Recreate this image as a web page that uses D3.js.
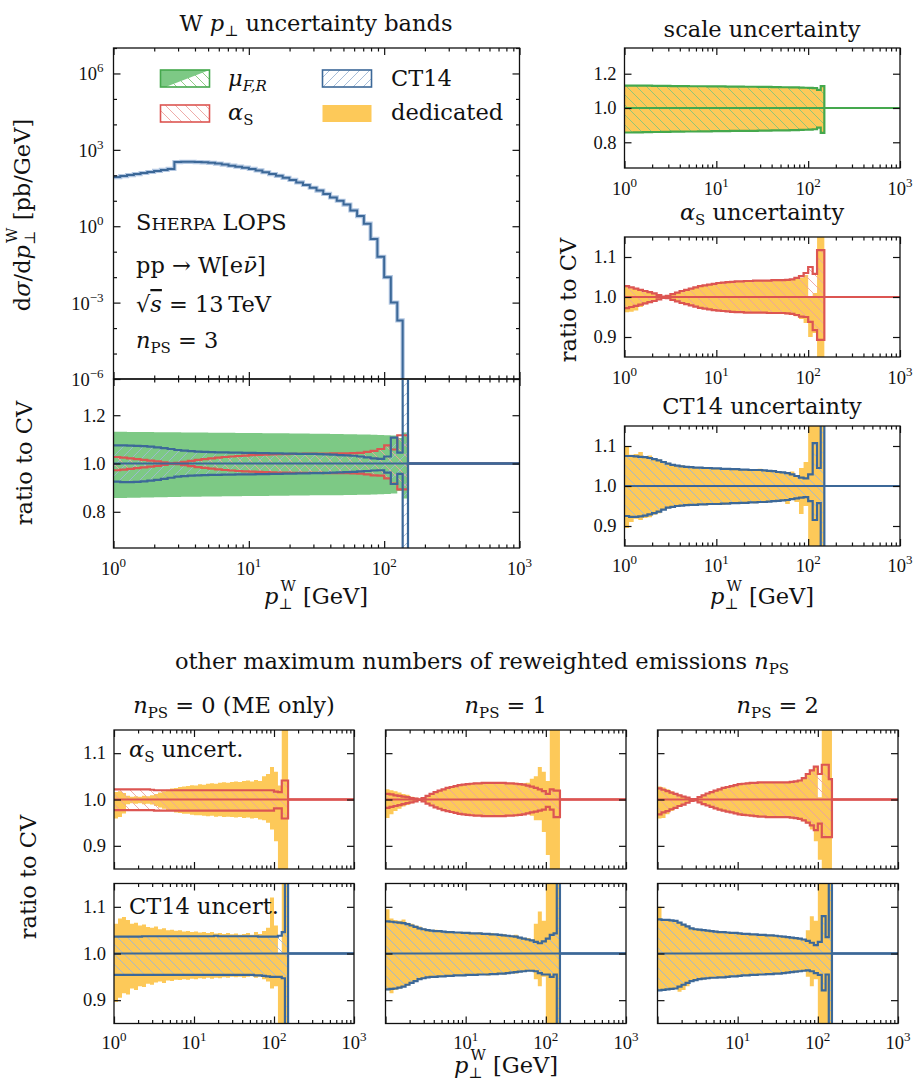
<!DOCTYPE html>
<html>
<head>
<meta charset="utf-8">
<script src="https://cdn.jsdelivr.net/npm/d3@7"></script>
<style>
  body { margin: 0; background: #fff; }
  svg { display: block; }
  text { fill: #111; }
  .num { font-family: "Liberation Serif", serif; font-size: 18.5px; }
  .lbl { font-family: "DejaVu Serif", serif; font-size: 22.5px; }
  .it { font-style: italic; }
</style>
</head>
<body>
<svg id="fig" width="917" height="1090"></svg>
<script>
// ---------- binning (GeV) ----------
const binEdges = [1.000, 1.122, 1.259, 1.413, 1.585, 1.778, 1.995, 2.239, 2.512, 2.818,
  3.162, 3.548, 3.981, 4.467, 5.012, 5.623, 6.310, 7.079, 7.943, 8.913,
  10.00, 11.22, 12.59, 14.13, 15.85, 17.78, 19.95, 22.39, 25.12, 28.18,
  31.62, 35.48, 39.81, 44.67, 50.12, 56.23, 63.10, 70.79, 79.43, 89.13,
  100.0, 112.0, 125.0, 137.0, 150.0];

// ---------- central value, d sigma / d pT (pb/GeV), n_PS = 3 ----------
const cvXsec = [85.1, 93.3, 102, 112, 123, 135, 148, 162, 178, 331,
  339, 339, 331, 324, 309, 288, 263, 240, 219, 200,
  178, 155, 132, 112, 95.5, 79.4, 66.1, 52.5, 41.7, 32.4,
  25.1, 18.6, 13.5, 10.0, 7.08, 4.17, 2.51, 1.26, 0.316, 0.063,
  0.010, 0.0010, 2.0e-4, 5e-7];

// ---------- n_PS = 3 : scale variations ----------
const scaleHi = [1.131, 1.131, 1.130, 1.130, 1.130, 1.130, 1.129, 1.129, 1.129, 1.129,
  1.128, 1.128, 1.128, 1.128, 1.127, 1.127, 1.127, 1.127, 1.126, 1.126,
  1.126, 1.126, 1.125, 1.125, 1.125, 1.125, 1.124, 1.124, 1.124, 1.123,
  1.123, 1.123, 1.122, 1.122, 1.121, 1.121, 1.120, 1.120, 1.119, 1.118,
  1.117, 1.116, 1.106, 1.128];
const scaleLo = [0.857, 0.857, 0.858, 0.858, 0.859, 0.859, 0.860, 0.860, 0.861, 0.861,
  0.862, 0.862, 0.862, 0.863, 0.863, 0.863, 0.864, 0.864, 0.864, 0.865,
  0.865, 0.865, 0.865, 0.866, 0.866, 0.866, 0.867, 0.867, 0.867, 0.868,
  0.868, 0.868, 0.869, 0.869, 0.870, 0.870, 0.871, 0.871, 0.872, 0.873,
  0.874, 0.876, 0.886, 0.855];
// the dedicated scale band coincides with the on-the-fly envelope
const scaleDedHi = scaleHi;
const scaleDedLo = scaleLo;

// ---------- n_PS = 3 : alpha_s ----------
const asUp3 = [0.972, 0.975, 0.978, 0.981, 0.984, 0.987, 0.990, 0.994, 0.998, 1.003,
  1.007, 1.011, 1.015, 1.018, 1.021, 1.024, 1.027, 1.029, 1.031, 1.033,
  1.035, 1.036, 1.037, 1.038, 1.039, 1.039, 1.040, 1.040, 1.041, 1.041,
  1.041, 1.041, 1.042, 1.042, 1.042, 1.043, 1.044, 1.048, 1.052, 1.060,
  1.075, 1.058, 1.117, 1.117];
const asDn3 = [1.027, 1.024, 1.021, 1.018, 1.015, 1.012, 1.009, 1.005, 1.001, 0.997,
  0.993, 0.989, 0.985, 0.982, 0.979, 0.976, 0.973, 0.971, 0.969, 0.967,
  0.966, 0.965, 0.964, 0.963, 0.962, 0.962, 0.961, 0.961, 0.961, 0.961,
  0.961, 0.960, 0.960, 0.960, 0.960, 0.959, 0.958, 0.955, 0.951, 0.950,
  0.938, 0.917, 0.893, 0.893];
const asDedHi3 = [1.025, 1.022, 1.020, 1.018, 1.016, 1.012, 1.010, 1.006, 1.002, 1.004,
  1.008, 1.012, 1.016, 1.019, 1.022, 1.025, 1.027, 1.030, 1.031, 1.034,
  1.035, 1.036, 1.036, 1.038, 1.039, 1.038, 1.040, 1.039, 1.041, 1.040,
  1.042, 1.041, 1.040, 1.042, 1.041, 1.044, 1.043, 1.050, 1.048, 1.055,
  1.000, 1.010, 1.300, 1.300];
const asDedLo3 = [0.962, 0.963, 0.966, 0.975, 0.982, 0.986, 0.990, 0.993, 0.997, 0.996,
  0.992, 0.988, 0.985, 0.981, 0.979, 0.976, 0.973, 0.970, 0.969, 0.967,
  0.966, 0.964, 0.964, 0.962, 0.962, 0.961, 0.961, 0.960, 0.961, 0.960,
  0.961, 0.959, 0.960, 0.959, 0.958, 0.957, 0.955, 0.952, 0.945, 0.935,
  0.900, 0.910, 0.700, 0.700];

// ---------- n_PS = 3 : CT14 ----------
const ctUp3 = [1.075, 1.075, 1.074, 1.073, 1.072, 1.070, 1.067, 1.064, 1.060, 1.056,
  1.053, 1.051, 1.049, 1.048, 1.047, 1.046, 1.046, 1.045, 1.045, 1.044,
  1.044, 1.043, 1.043, 1.042, 1.042, 1.041, 1.041, 1.040, 1.040, 1.040,
  1.039, 1.038, 1.037, 1.035, 1.034, 1.032, 1.029, 1.025, 1.021, 1.019,
  1.029, 1.107, 1.045, 1.600];
const ctDn3 = [0.925, 0.923, 0.923, 0.924, 0.926, 0.929, 0.932, 0.936, 0.941, 0.946,
  0.948, 0.950, 0.951, 0.952, 0.953, 0.953, 0.954, 0.954, 0.955, 0.955,
  0.955, 0.956, 0.956, 0.957, 0.957, 0.958, 0.958, 0.959, 0.959, 0.960,
  0.960, 0.961, 0.962, 0.963, 0.964, 0.965, 0.967, 0.969, 0.971, 0.972,
  0.962, 0.915, 0.957, 0.400];
const ctDedHi3 = [1.100, 1.078, 1.080, 1.085, 1.074, 1.076, 1.070, 1.066, 1.062, 1.058,
  1.055, 1.050, 1.052, 1.047, 1.049, 1.046, 1.047, 1.044, 1.046, 1.043,
  1.045, 1.042, 1.044, 1.041, 1.043, 1.040, 1.042, 1.039, 1.041, 1.043,
  1.038, 1.039, 1.036, 1.035, 1.033, 1.031, 1.036, 1.026, 1.045, 1.060,
  1.300, 1.300, 1.300, 1.300];
const ctDedLo3 = [0.895, 0.910, 0.918, 0.915, 0.920, 0.922, 0.928, 0.932, 0.940, 0.944,
  0.947, 0.949, 0.950, 0.951, 0.952, 0.951, 0.953, 0.952, 0.954, 0.953,
  0.955, 0.953, 0.955, 0.956, 0.955, 0.957, 0.956, 0.958, 0.957, 0.959,
  0.958, 0.960, 0.961, 0.962, 0.963, 0.955, 0.966, 0.960, 0.930, 0.950,
  0.700, 0.700, 0.700, 0.700];

// ---------- n_PS = 0 ----------
const asUp0 = [1.022, 1.022, 1.022, 1.022, 1.022, 1.022, 1.022, 1.022, 1.022, 1.021,
  1.020, 1.020, 1.020, 1.020, 1.020, 1.020, 1.020, 1.020, 1.020, 1.020,
  1.020, 1.020, 1.020, 1.020, 1.020, 1.020, 1.020, 1.020, 1.020, 1.020,
  1.020, 1.020, 1.020, 1.020, 1.020, 1.020, 1.020, 1.020, 1.020, 1.020,
  1.017, 1.016, 1.041, 1.041];
const asDn0 = [0.977, 0.977, 0.977, 0.977, 0.977, 0.977, 0.977, 0.977, 0.977, 0.977,
  0.976, 0.976, 0.976, 0.976, 0.976, 0.976, 0.976, 0.976, 0.976, 0.976,
  0.976, 0.976, 0.976, 0.976, 0.976, 0.976, 0.976, 0.976, 0.976, 0.976,
  0.976, 0.976, 0.976, 0.976, 0.976, 0.976, 0.976, 0.976, 0.976, 0.976,
  0.981, 0.981, 0.959, 0.959];
const asDedHi0 = [1.016, 1.018, 1.014, 1.008, 1.006, 1.007, 1.006, 1.008, 1.007, 1.009,
  1.012, 1.015, 1.018, 1.021, 1.024, 1.025, 1.027, 1.028, 1.029, 1.031,
  1.030, 1.033, 1.032, 1.034, 1.035, 1.034, 1.036, 1.037, 1.036, 1.038,
  1.039, 1.038, 1.040, 1.041, 1.039, 1.042, 1.040, 1.050, 1.055, 1.070,
  1.060, 1.030, 1.300, 1.300];
const asDedLo0 = [0.959, 0.962, 0.970, 0.990, 0.992, 0.991, 0.992, 0.990, 0.991, 0.989,
  0.986, 0.983, 0.980, 0.977, 0.975, 0.972, 0.971, 0.969, 0.969, 0.967,
  0.966, 0.966, 0.965, 0.964, 0.965, 0.963, 0.964, 0.962, 0.963, 0.962,
  0.961, 0.962, 0.960, 0.961, 0.959, 0.960, 0.957, 0.955, 0.950, 0.935,
  0.910, 0.700, 0.700, 0.700];
const ctUp0 = [1.036, 1.036, 1.036, 1.036, 1.036, 1.036, 1.036, 1.037, 1.037, 1.037,
  1.037, 1.037, 1.037, 1.037, 1.037, 1.037, 1.037, 1.037, 1.037, 1.037,
  1.037, 1.037, 1.037, 1.037, 1.037, 1.038, 1.037, 1.037, 1.037, 1.037,
  1.037, 1.037, 1.037, 1.037, 1.037, 1.037, 1.036, 1.036, 1.036, 1.036,
  1.036, 1.038, 1.046, 1.600];
const ctDn0 = [0.954, 0.954, 0.954, 0.954, 0.954, 0.954, 0.954, 0.954, 0.954, 0.954,
  0.954, 0.954, 0.954, 0.954, 0.954, 0.954, 0.954, 0.954, 0.954, 0.954,
  0.954, 0.954, 0.954, 0.954, 0.954, 0.954, 0.954, 0.954, 0.954, 0.954,
  0.954, 0.954, 0.954, 0.954, 0.954, 0.953, 0.953, 0.952, 0.951, 0.950,
  0.950, 0.950, 0.947, 0.400];
const ctDedHi0 = [1.064, 1.075, 1.078, 1.072, 1.064, 1.066, 1.060, 1.062, 1.057, 1.055,
  1.058, 1.052, 1.054, 1.050, 1.051, 1.049, 1.050, 1.047, 1.048, 1.046,
  1.047, 1.045, 1.046, 1.044, 1.046, 1.043, 1.044, 1.042, 1.044, 1.041,
  1.043, 1.040, 1.042, 1.044, 1.040, 1.046, 1.042, 1.048, 1.055, 1.120,
  1.060, 1.000, 1.300, 1.300];
const ctDedLo0 = [0.896, 0.905, 0.915, 0.912, 0.925, 0.922, 0.930, 0.928, 0.935, 0.933,
  0.938, 0.940, 0.937, 0.942, 0.941, 0.944, 0.943, 0.945, 0.944, 0.946,
  0.945, 0.947, 0.946, 0.948, 0.946, 0.948, 0.947, 0.949, 0.948, 0.950,
  0.949, 0.950, 0.948, 0.950, 0.951, 0.948, 0.950, 0.945, 0.940, 0.925,
  0.930, 0.700, 0.700, 0.700];

// ---------- n_PS = 1 ----------
const asUp1 = [0.982, 0.984, 0.986, 0.988, 0.990, 0.992, 0.994, 0.996, 0.999, 1.003,
  1.008, 1.012, 1.016, 1.019, 1.022, 1.025, 1.027, 1.029, 1.031, 1.032,
  1.033, 1.034, 1.035, 1.035, 1.036, 1.036, 1.036, 1.036, 1.036, 1.036,
  1.035, 1.035, 1.034, 1.033, 1.032, 1.030, 1.028, 1.025, 1.022, 1.018,
  1.012, 1.022, 1.019, 1.019];
const asDn1 = [1.012, 1.011, 1.009, 1.008, 1.006, 1.005, 1.003, 1.002, 1.000, 0.996,
  0.991, 0.987, 0.983, 0.980, 0.977, 0.975, 0.973, 0.971, 0.969, 0.968,
  0.967, 0.966, 0.965, 0.965, 0.964, 0.964, 0.964, 0.964, 0.964, 0.964,
  0.965, 0.965, 0.966, 0.967, 0.968, 0.970, 0.972, 0.974, 0.976, 0.978,
  0.984, 0.978, 0.962, 0.962];
const asDedHi1 = [1.022, 1.020, 1.018, 1.015, 1.012, 1.010, 1.006, 1.004, 1.002, 1.004,
  1.008, 1.012, 1.016, 1.019, 1.022, 1.025, 1.027, 1.029, 1.031, 1.033,
  1.034, 1.035, 1.036, 1.035, 1.037, 1.036, 1.037, 1.036, 1.038, 1.036,
  1.036, 1.035, 1.036, 1.034, 1.035, 1.036, 1.045, 1.050, 1.070, 1.060,
  1.040, 1.300, 1.300, 1.300];
const asDedLo1 = [0.960, 0.968, 0.975, 0.980, 0.985, 0.988, 0.992, 0.995, 0.997, 0.996,
  0.992, 0.987, 0.983, 0.980, 0.977, 0.975, 0.973, 0.971, 0.969, 0.967,
  0.966, 0.965, 0.964, 0.965, 0.963, 0.964, 0.963, 0.964, 0.962, 0.964,
  0.964, 0.965, 0.964, 0.966, 0.967, 0.968, 0.965, 0.955, 0.955, 0.930,
  0.880, 0.700, 0.700, 0.700];
const ctUp1 = [1.069, 1.068, 1.067, 1.066, 1.065, 1.063, 1.060, 1.057, 1.054, 1.052,
  1.050, 1.049, 1.048, 1.048, 1.047, 1.046, 1.046, 1.045, 1.045, 1.044,
  1.044, 1.043, 1.043, 1.043, 1.042, 1.042, 1.041, 1.041, 1.040, 1.039,
  1.038, 1.037, 1.036, 1.034, 1.032, 1.030, 1.028, 1.025, 1.022, 1.026,
  1.032, 1.040, 1.043, 1.600];
const ctDn1 = [0.923, 0.924, 0.925, 0.927, 0.929, 0.933, 0.937, 0.941, 0.945, 0.947,
  0.949, 0.950, 0.950, 0.951, 0.951, 0.952, 0.952, 0.953, 0.953, 0.953,
  0.954, 0.954, 0.954, 0.955, 0.955, 0.955, 0.956, 0.956, 0.957, 0.957,
  0.958, 0.959, 0.960, 0.961, 0.962, 0.963, 0.963, 0.962, 0.958, 0.955,
  0.955, 0.950, 0.955, 0.400];
const ctDedHi1 = [1.095, 1.075, 1.072, 1.070, 1.073, 1.066, 1.064, 1.060, 1.058, 1.054,
  1.052, 1.050, 1.051, 1.049, 1.048, 1.047, 1.048, 1.046, 1.046, 1.045,
  1.046, 1.044, 1.044, 1.045, 1.043, 1.043, 1.044, 1.042, 1.041, 1.042,
  1.039, 1.038, 1.040, 1.035, 1.034, 1.033, 1.030, 1.064, 1.090, 1.070,
  1.300, 1.300, 1.300, 1.300];
const ctDedLo1 = [0.921, 0.915, 0.922, 0.925, 0.930, 0.931, 0.936, 0.940, 0.944, 0.946,
  0.948, 0.949, 0.948, 0.950, 0.950, 0.951, 0.950, 0.952, 0.952, 0.951,
  0.953, 0.953, 0.952, 0.954, 0.954, 0.953, 0.955, 0.955, 0.956, 0.955,
  0.957, 0.958, 0.957, 0.960, 0.961, 0.962, 0.961, 0.945, 0.930, 0.950,
  0.700, 0.700, 0.700, 0.700];

// ---------- n_PS = 2 ----------
const asUp2 = [0.968, 0.972, 0.975, 0.979, 0.982, 0.986, 0.989, 0.993, 0.997, 1.001,
  1.005, 1.009, 1.013, 1.016, 1.019, 1.022, 1.025, 1.027, 1.029, 1.031,
  1.033, 1.034, 1.035, 1.036, 1.036, 1.037, 1.037, 1.037, 1.037, 1.037,
  1.037, 1.037, 1.037, 1.038, 1.039, 1.041, 1.046, 1.055, 1.063, 1.071,
  1.055, 1.075, 1.075, 1.044];
const asDn2 = [1.024, 1.021, 1.018, 1.015, 1.012, 1.009, 1.006, 1.004, 1.001, 0.998,
  0.994, 0.990, 0.987, 0.984, 0.981, 0.978, 0.976, 0.974, 0.972, 0.970,
  0.968, 0.967, 0.966, 0.965, 0.964, 0.963, 0.963, 0.962, 0.962, 0.962,
  0.962, 0.962, 0.962, 0.961, 0.960, 0.958, 0.955, 0.950, 0.944, 0.934,
  0.948, 0.919, 0.919, 0.919];
const asDedHi2 = [1.028, 1.026, 1.022, 1.018, 1.014, 1.010, 1.007, 1.004, 1.002, 1.003,
  1.006, 1.010, 1.014, 1.017, 1.020, 1.023, 1.026, 1.028, 1.030, 1.032,
  1.034, 1.035, 1.036, 1.036, 1.037, 1.037, 1.038, 1.037, 1.038, 1.037,
  1.038, 1.037, 1.038, 1.039, 1.040, 1.042, 1.047, 1.055, 1.063, 1.071,
  1.005, 1.300, 1.300, 1.300];
const asDedLo2 = [0.959, 0.960, 0.968, 0.975, 0.981, 0.985, 0.989, 0.993, 0.997, 0.997,
  0.993, 0.989, 0.986, 0.983, 0.980, 0.977, 0.975, 0.973, 0.971, 0.969,
  0.967, 0.966, 0.965, 0.964, 0.963, 0.962, 0.962, 0.961, 0.962, 0.961,
  0.962, 0.961, 0.961, 0.960, 0.959, 0.957, 0.953, 0.948, 0.935, 0.910,
  0.870, 0.700, 0.700, 0.700];
const ctUp2 = [1.073, 1.072, 1.072, 1.071, 1.070, 1.066, 1.062, 1.058, 1.054, 1.052,
  1.051, 1.050, 1.049, 1.048, 1.047, 1.046, 1.046, 1.045, 1.044, 1.044,
  1.043, 1.042, 1.042, 1.041, 1.041, 1.040, 1.040, 1.039, 1.039, 1.038,
  1.037, 1.036, 1.035, 1.034, 1.033, 1.032, 1.030, 1.027, 1.023, 1.018,
  1.025, 1.080, 1.035, 1.600];
const ctDn2 = [0.921, 0.922, 0.923, 0.924, 0.925, 0.929, 0.933, 0.937, 0.941, 0.943,
  0.945, 0.946, 0.947, 0.948, 0.948, 0.949, 0.949, 0.950, 0.951, 0.951,
  0.952, 0.953, 0.953, 0.954, 0.954, 0.955, 0.955, 0.956, 0.956, 0.957,
  0.957, 0.958, 0.959, 0.960, 0.961, 0.962, 0.963, 0.964, 0.962, 0.958,
  0.954, 0.921, 0.955, 0.400];
const ctDedHi2 = [1.100, 1.074, 1.073, 1.071, 1.072, 1.067, 1.063, 1.059, 1.055, 1.053,
  1.051, 1.050, 1.050, 1.048, 1.049, 1.046, 1.047, 1.045, 1.045, 1.044,
  1.044, 1.043, 1.043, 1.042, 1.042, 1.041, 1.041, 1.040, 1.040, 1.039,
  1.038, 1.037, 1.036, 1.035, 1.034, 1.033, 1.031, 1.050, 1.080, 1.070,
  1.300, 1.300, 1.300, 1.300];
const ctDedLo2 = [0.921, 0.922, 0.923, 0.924, 0.925, 0.918, 0.922, 0.930, 0.940, 0.943,
  0.945, 0.945, 0.947, 0.947, 0.948, 0.949, 0.948, 0.950, 0.950, 0.951,
  0.951, 0.952, 0.953, 0.953, 0.954, 0.954, 0.955, 0.955, 0.956, 0.956,
  0.957, 0.957, 0.958, 0.960, 0.960, 0.961, 0.962, 0.950, 0.930, 0.945,
  0.700, 0.700, 0.700, 0.700];

// ---------- tick labels ----------
const xDecades = [1, 10, 100, 1000];
const xDecadeExp = ["0", "1", "2", "3"];
const mainYTicks = [1e6, 1e3, 1, 1e-3, 1e-6];
const mainYExp = ["6", "3", "0", "\u22123", "\u22126"];
const wideRatioTicks = [0.8, 1.0, 1.2];
const wideRatioLabels = ["0.8", "1.0", "1.2"];
const narrowRatioTicks = [0.9, 1.0, 1.1];
const narrowRatioLabels = ["0.9", "1.0", "1.1"];

// ---------- styling ----------
const C = {
  green: "#45a84d", greenFill: "#7dc985", greenHatch: "#84c67a",
  red: "#dc5552", redHatch: "#eca39f",
  blue: "#3c6898", blueHatch: "#9db7d6",
  yellow: "#fdc959", ink: "#111"
};
const SUB = 15;

const svg = d3.select("#fig");
svg.append("rect").attr("width", 917).attr("height", 1090).attr("fill", "#fff");
const defs = svg.append("defs");

function hatchPattern(id, color, dir) {
  const p = defs.append("pattern").attr("id", id)
    .attr("patternUnits", "userSpaceOnUse").attr("width", 10).attr("height", 10);
  const d = dir === "\\"
    ? "M-1,-1L11,11M-1,9L1,11M9,-1L11,1"
    : "M-1,11L11,-1M-1,1L1,-1M9,11L11,9";
  p.append("path").attr("d", d).attr("stroke", color)
    .attr("stroke-width", 0.9).attr("fill", "none");
}
hatchPattern("hatchRed", C.redHatch, "\\");
hatchPattern("hatchGreen", C.greenHatch, "\\");
hatchPattern("hatchBlue", C.blueHatch, "\\");
hatchPattern("hatchBlueF", C.blueHatch, "/");

// ---------- helpers ----------
let clipCount = 0;
function makePanel(r, yScale) {
  const x = d3.scaleLog().domain([1, 1000]).range([r.x0, r.x1]);
  const y = yScale.range([r.y1, r.y0]);
  const id = "clip" + (clipCount++);
  defs.append("clipPath").attr("id", id).append("rect")
    .attr("x", r.x0).attr("y", r.y0).attr("width", r.x1 - r.x0).attr("height", r.y1 - r.y0);
  const g = svg.append("g");
  const plot = g.append("g").attr("clip-path", `url(#${id})`);
  return { r, x, y, g, plot };
}

function stepPoints(vals, tail) {
  const pts = [];
  vals.forEach((v, i) => { pts.push([binEdges[i], v]); pts.push([binEdges[i + 1], v]); });
  pts.push([binEdges[binEdges.length - 1], tail]);
  pts.push([1000, tail]);
  return pts;
}
function bandPoints(hi, lo) {
  const pts = [];
  hi.forEach((h, i) => {
    pts.push([binEdges[i], h, lo[i]]);
    pts.push([binEdges[i + 1], h, lo[i]]);
  });
  return pts;
}
function drawBand(p, hi, lo, fill) {
  p.plot.append("path").datum(bandPoints(hi, lo))
    .attr("d", d3.area().x(d => p.x(d[0])).y0(d => p.y(d[2])).y1(d => p.y(d[1])))
    .attr("fill", fill);
}
function drawStep(p, vals, color, width, tail) {
  p.plot.append("path").datum(stepPoints(vals, tail))
    .attr("d", d3.line().x(d => p.x(d[0])).y(d => p.y(d[1])))
    .attr("fill", "none").attr("stroke", color).attr("stroke-width", width)
    .attr("stroke-linejoin", "miter");
}
function drawUnity(p, color) {
  p.plot.append("path").datum([[1, 1], [1000, 1]])
    .attr("d", d3.line().x(d => p.x(d[0])).y(d => p.y(d[1])))
    .attr("stroke", color).attr("stroke-width", 2).attr("fill", "none");
}

function addExpLabel(sel, base, exp, anchor) {
  const t = sel.append("text").attr("class", "num").attr("text-anchor", anchor);
  t.append("tspan").text(base);
  t.append("tspan").attr("dy", -8).attr("font-size", 13).text(exp);
  return t;
}

function drawAxes(p, o) {
  const { r, x, y } = p;
  const minor = x.ticks().filter(v => Math.abs(Math.log10(v) - Math.round(Math.log10(v))) > 1e-6);
  const clean = g => {
    g.selectAll(".domain").remove();
    g.attr("color", C.ink).selectAll("line").attr("stroke-width", 1.2);
  };
  const ax = p.g.append("g");
  ax.append("g").attr("transform", `translate(0,${r.y1})`)
    .call(d3.axisBottom(x).tickValues(xDecades).tickSize(-7).tickFormat("")).call(clean);
  ax.append("g").attr("transform", `translate(0,${r.y1})`)
    .call(d3.axisBottom(x).tickValues(minor).tickSize(-3.5).tickFormat("")).call(clean);
  ax.append("g").attr("transform", `translate(0,${r.y0})`)
    .call(d3.axisTop(x).tickValues(xDecades).tickSize(-7).tickFormat("")).call(clean);
  ax.append("g").attr("transform", `translate(0,${r.y0})`)
    .call(d3.axisTop(x).tickValues(minor).tickSize(-3.5).tickFormat("")).call(clean);
  ax.append("g").attr("transform", `translate(${r.x0},0)`)
    .call(d3.axisLeft(y).tickValues(o.yMajor).tickSize(-7).tickFormat("")).call(clean);
  ax.append("g").attr("transform", `translate(${r.x1},0)`)
    .call(d3.axisRight(y).tickValues(o.yMajor).tickSize(-7).tickFormat("")).call(clean);
  if (o.yMinor) {
    ax.append("g").attr("transform", `translate(${r.x0},0)`)
      .call(d3.axisLeft(y).tickValues(o.yMinor).tickSize(-3.5).tickFormat("")).call(clean);
    ax.append("g").attr("transform", `translate(${r.x1},0)`)
      .call(d3.axisRight(y).tickValues(o.yMinor).tickSize(-3.5).tickFormat("")).call(clean);
  }
  p.g.append("rect").attr("x", r.x0).attr("y", r.y0)
    .attr("width", r.x1 - r.x0).attr("height", r.y1 - r.y0)
    .attr("fill", "none").attr("stroke", C.ink).attr("stroke-width", 1.3);

  if (o.xLabels) {
    xDecades.forEach((v, i) => {
      if (o.xLabels.indexOf(v) < 0) return;
      addExpLabel(p.g, "10", xDecadeExp[i], "middle")
        .attr("x", x(v)).attr("y", r.y1 + o.xLabelGap);
    });
  }
  if (o.yLabels) {
    o.yMajor.forEach((v, i) => {
      p.g.append("text").attr("class", "num").attr("text-anchor", "end")
        .attr("x", r.x0 - 8).attr("y", y(v)).attr("dy", "0.34em").text(o.yLabels[i]);
    });
  }
}

function ratioPanel(r, domain, hi, lo, dedHi, dedLo, color, hatchId, o) {
  const p = makePanel(r, d3.scaleLinear().domain(domain));
  drawBand(p, dedHi, dedLo, C.yellow);
  drawBand(p, hi, lo, `url(#${hatchId})`);
  drawStep(p, hi, color, 2.2, 1);
  drawStep(p, lo, color, 2.2, 1);
  drawUnity(p, color);
  drawAxes(p, o);
  return p;
}

function pTLabel(x, y) {
  const t = svg.append("text").attr("class", "lbl").attr("text-anchor", "middle")
    .attr("x", x).attr("y", y);
  t.append("tspan").attr("class", "it").text("p");
  t.append("tspan").attr("font-size", SUB).attr("dy", 5).text("\u22A5");
  t.append("tspan").attr("font-size", SUB).attr("dx", -12).attr("dy", -18).text("W");
  t.append("tspan").attr("dy", 13).text(" [GeV]");
  return t;
}
function ratioLabel(x, y) {
  svg.append("text").attr("class", "lbl").attr("text-anchor", "middle")
    .attr("transform", `translate(${x},${y}) rotate(-90)`).text("ratio to CV");
}
function alphaS(t) {
  t.append("tspan").attr("class", "it").text("\u03B1");
  t.append("tspan").attr("font-size", SUB).attr("dy", 5).text("S");
}

// ---------- main spectrum ----------
const MAIN = { x0: 113.5, x1: 519.5, y0: 48, y1: 379 };
const pMain = makePanel(MAIN, d3.scaleLog().domain([1e-6, 1e7]));
const cvPts = stepPoints(cvXsec, 1e-9);
const cvLine = d3.line().x(d => pMain.x(d[0])).y(d => pMain.y(d[1]));
pMain.plot.append("path").datum(cvPts).attr("d", cvLine)
  .attr("fill", "none").attr("stroke", "#b4c8e2").attr("stroke-width", 4.2);
pMain.plot.append("path").datum(cvPts).attr("d", cvLine)
  .attr("fill", "none").attr("stroke", C.blue).attr("stroke-width", 2);
const mainMinor = d3.range(-6, 8).filter(k => k % 3 !== 0).map(k => Math.pow(10, k));
drawAxes(pMain, { yMajor: mainYTicks, yMinor: mainMinor });
mainYTicks.forEach((v, i) => {
  addExpLabel(pMain.g, "10", mainYExp[i], "end")
    .attr("x", MAIN.x0 - 10).attr("y", pMain.y(v) + 7);
});

// ---------- main ratio ----------
const MAINR = { x0: 113.5, x1: 519.5, y0: 379, y1: 548 };
const pMR = makePanel(MAINR, d3.scaleLinear().domain([0.65, 1.35]));
drawBand(pMR, scaleHi, scaleLo, C.greenFill);
drawBand(pMR, asUp3, asDn3, "url(#hatchRed)");
drawBand(pMR, ctUp3, ctDn3, "url(#hatchBlueF)");
drawStep(pMR, asUp3, C.red, 2.2, 1);
drawStep(pMR, asDn3, C.red, 2.2, 1);
drawStep(pMR, ctUp3, C.blue, 2.2, 1);
drawStep(pMR, ctDn3, C.blue, 2.2, 1);
drawUnity(pMR, C.blue);
drawAxes(pMR, { yMajor: wideRatioTicks, yLabels: wideRatioLabels, xLabels: xDecades, xLabelGap: 27 });

// ---------- right column ----------
const R1 = { x0: 624.5, x1: 900, y0: 48, y1: 168 };
const R2 = { x0: 624.5, x1: 900, y0: 237, y1: 357 };
const R3 = { x0: 624.5, x1: 900, y0: 426, y1: 546 };
ratioPanel(R1, [0.65, 1.35], scaleHi, scaleLo, scaleDedHi, scaleDedLo, C.green, "hatchGreen",
  { yMajor: wideRatioTicks, yLabels: wideRatioLabels, xLabels: xDecades, xLabelGap: 27 });
ratioPanel(R2, [0.85, 1.15], asUp3, asDn3, asDedHi3, asDedLo3, C.red, "hatchRed",
  { yMajor: narrowRatioTicks, yLabels: narrowRatioLabels, xLabels: xDecades, xLabelGap: 27 });
ratioPanel(R3, [0.85, 1.15], ctUp3, ctDn3, ctDedHi3, ctDedLo3, C.blue, "hatchBlue",
  { yMajor: narrowRatioTicks, yLabels: narrowRatioLabels, xLabels: xDecades, xLabelGap: 26 });

// ---------- bottom grid ----------
const colX = [[114, 354], [385.5, 626], [657.5, 898]];
const rowY = [[730, 869], [883.5, 1023.5]];
const asSets = [[asUp0, asDn0, asDedHi0, asDedLo0], [asUp1, asDn1, asDedHi1, asDedLo1], [asUp2, asDn2, asDedHi2, asDedLo2]];
const ctSets = [[ctUp0, ctDn0, ctDedHi0, ctDedLo0], [ctUp1, ctDn1, ctDedHi1, ctDedLo1], [ctUp2, ctDn2, ctDedHi2, ctDedLo2]];
colX.forEach((cx, c) => {
  const first = c === 0;
  const a = asSets[c], t = ctSets[c];
  ratioPanel({ x0: cx[0], x1: cx[1], y0: rowY[0][0], y1: rowY[0][1] }, [0.85, 1.15],
    a[0], a[1], a[2], a[3], C.red, "hatchRed",
    { yMajor: narrowRatioTicks, yLabels: first ? narrowRatioLabels : null });
  ratioPanel({ x0: cx[0], x1: cx[1], y0: rowY[1][0], y1: rowY[1][1] }, [0.85, 1.15],
    t[0], t[1], t[2], t[3], C.blue, "hatchBlue",
    { yMajor: narrowRatioTicks, yLabels: first ? narrowRatioLabels : null,
      xLabels: first ? xDecades : [10, 100, 1000], xLabelGap: 25 });
});

// ---------- legend ----------
const leg = svg.append("g");
function patch(x, y) { return { x, y, w: 49, h: 17 }; }
const pm = patch(160.5, 70), pa = patch(160.5, 105), pc = patch(322.5, 70), pd = patch(322.5, 105);
leg.append("rect").attr("x", pm.x).attr("y", pm.y).attr("width", pm.w).attr("height", pm.h)
  .attr("fill", "url(#hatchGreen)");
leg.append("path").attr("d", `M${pm.x},${pm.y}H${pm.x + pm.w}L${pm.x + 5},${pm.y + pm.h}H${pm.x}Z`)
  .attr("fill", C.greenFill);
leg.append("rect").attr("x", pm.x).attr("y", pm.y).attr("width", pm.w).attr("height", pm.h)
  .attr("fill", "none").attr("stroke", C.green).attr("stroke-width", 1.6);
leg.append("rect").attr("x", pa.x).attr("y", pa.y).attr("width", pa.w).attr("height", pa.h)
  .attr("fill", "url(#hatchRed)").attr("stroke", C.red).attr("stroke-width", 1.6);
leg.append("rect").attr("x", pc.x).attr("y", pc.y).attr("width", pc.w).attr("height", pc.h)
  .attr("fill", "url(#hatchBlueF)").attr("stroke", C.blue).attr("stroke-width", 1.6);
leg.append("rect").attr("x", pd.x).attr("y", pd.y).attr("width", pd.w).attr("height", pd.h)
  .attr("fill", C.yellow);

const tMu = leg.append("text").attr("class", "lbl").attr("x", 228).attr("y", 86);
tMu.append("tspan").attr("class", "it").text("\u03BC");
tMu.append("tspan").attr("class", "it").attr("font-size", SUB).attr("dy", 5).text("F,R");
const tAs = leg.append("text").attr("class", "lbl").attr("x", 228).attr("y", 120);
alphaS(tAs);
leg.append("text").attr("class", "lbl").attr("x", 391).attr("y", 86).text("CT14");
leg.append("text").attr("class", "lbl").attr("x", 391).attr("y", 120).text("dedicated");

// ---------- annotations, main ----------
const tTitle = svg.append("text").attr("class", "lbl").attr("text-anchor", "middle")
  .attr("x", 316).attr("y", 31);
tTitle.append("tspan").text("W ");
tTitle.append("tspan").attr("class", "it").text("p");
tTitle.append("tspan").attr("font-size", SUB).attr("dy", 5).text("\u22A5");
tTitle.append("tspan").attr("dy", -5).text(" uncertainty bands");

const s1 = svg.append("text").attr("class", "lbl").attr("x", 136).attr("y", 230);
s1.append("tspan").text("S");
s1.append("tspan").attr("font-size", 17.5).text("HERPA");
s1.append("tspan").text(" LOPS");
const s2 = svg.append("text").attr("class", "lbl").attr("x", 136).attr("y", 273);
s2.append("tspan").text("pp \u2192 W[e");
s2.append("tspan").attr("class", "it").text("\u03BD\u0304");
s2.append("tspan").text("]");
const s3 = svg.append("text").attr("class", "lbl").attr("x", 136).attr("y", 312);
s3.append("tspan").text("\u221A");
s3.append("tspan").attr("class", "it").attr("text-decoration", "overline").text("s");
s3.append("tspan").text(" = 13\u2009TeV");
const s4 = svg.append("text").attr("class", "lbl").attr("x", 136).attr("y", 348);
s4.append("tspan").attr("class", "it").text("n");
s4.append("tspan").attr("font-size", SUB).attr("dy", 5).text("PS");
s4.append("tspan").attr("dy", -5).text(" = 3");

const yl = svg.append("text").attr("class", "lbl").attr("text-anchor", "middle")
  .attr("transform", "translate(30,215) rotate(-90)");
yl.append("tspan").text("d");
yl.append("tspan").attr("class", "it").text("\u03C3");
yl.append("tspan").text("/d");
yl.append("tspan").attr("class", "it").text("p");
yl.append("tspan").attr("font-size", SUB).attr("dy", 5).text("\u22A5");
yl.append("tspan").attr("font-size", SUB).attr("dx", -12).attr("dy", -18).text("W");
yl.append("tspan").attr("dy", 13).text(" [pb/GeV]");

ratioLabel(32, 463);
pTLabel(316, 604);

// ---------- annotations, right column ----------
svg.append("text").attr("class", "lbl").attr("text-anchor", "middle")
  .attr("x", 762).attr("y", 37).text("scale uncertainty");
const tAsU = svg.append("text").attr("class", "lbl").attr("text-anchor", "middle")
  .attr("x", 762).attr("y", 220);
alphaS(tAsU);
tAsU.append("tspan").attr("dy", -5).text(" uncertainty");
svg.append("text").attr("class", "lbl").attr("text-anchor", "middle")
  .attr("x", 762).attr("y", 414).text("CT14 uncertainty");
ratioLabel(576, 300);
pTLabel(762, 604);

// ---------- annotations, bottom ----------
const sup = svg.append("text").attr("class", "lbl").attr("text-anchor", "middle")
  .attr("x", 482).attr("y", 669);
sup.append("tspan").text("other maximum numbers of reweighted emissions ");
sup.append("tspan").attr("class", "it").text("n");
sup.append("tspan").attr("font-size", SUB).attr("dy", 5).text("PS");

const colTitles = ["0 (ME only)", "1", "2"];
colX.forEach((cx, c) => {
  const t = svg.append("text").attr("class", "lbl").attr("text-anchor", "middle")
    .attr("x", (cx[0] + cx[1]) / 2).attr("y", 713);
  t.append("tspan").attr("class", "it").text("n");
  t.append("tspan").attr("font-size", SUB).attr("dy", 5).text("PS");
  t.append("tspan").attr("dy", -5).text(" = " + colTitles[c]);
});
const uA = svg.append("text").attr("class", "lbl").attr("x", 129).attr("y", 757);
alphaS(uA);
uA.append("tspan").attr("dy", -5).text(" uncert.");
svg.append("text").attr("class", "lbl").attr("x", 129).attr("y", 914).text("CT14 uncert.");
ratioLabel(36, 877);
pTLabel(506, 1073);
</script>
</body>
</html>
